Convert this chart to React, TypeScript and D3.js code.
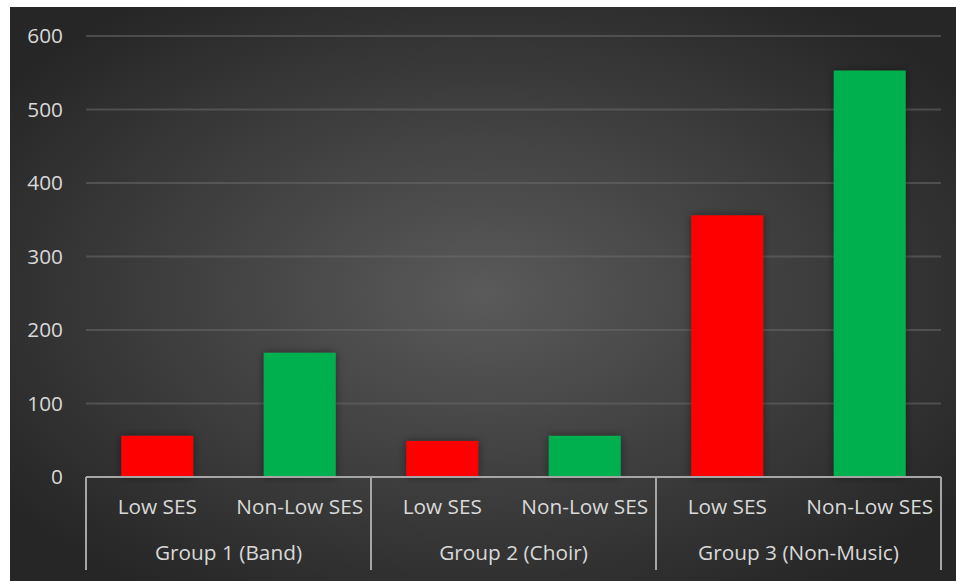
import React from "react";
import * as d3 from "d3";

const groups = ["Group 1 (Band)", "Group 2 (Choir)", "Group 3 (Non-Music)"];
const subcats = ["Low SES", "Non-Low SES"];
const lowSES = [56, 49, 356];
const nonLowSES = [169, 56, 553];
const yTicks = [0, 100, 200, 300, 400, 500, 600];
const colors = ["#FF0000", "#00B050"];

const W = 956;
const H = 581;
const plotLeft = 86;
const plotRight = 941;
const plotTop = 36;
const plotBottom = 477;
const font = "'Open Sans', 'Noto Sans', sans-serif";
const fs = 20.8;

export default function App() {
  const y = d3.scaleLinear().domain([0, 600]).range([plotBottom, plotTop]);
  const xg = d3.scaleBand<string>().domain(groups).range([plotLeft, plotRight]).padding(0);
  const sub = d3.scaleBand<string>().domain(subcats).range([0, xg.bandwidth()]).padding(0);
  const barW = sub.bandwidth() * 0.505;
  const series = [lowSES, nonLowSES];

  return (
    <svg width={W} height={H} style={{ position: "absolute", left: 0, top: 0 }}>
      <defs>
        <radialGradient id="bg" cx="50%" cy="50%" r="62%" gradientUnits="objectBoundingBox">
          <stop offset="0%" stopColor="#5a5a5a" />
          <stop offset="100%" stopColor="#262626" />
        </radialGradient>
        <filter id="sh" x="-20%" y="-20%" width="140%" height="140%">
          <feDropShadow dx="0" dy="0" stdDeviation="4" floodColor="#000" floodOpacity="0.45" />
        </filter>
      </defs>
      <rect x={0} y={0} width={W} height={H} fill="#fff" />
      <rect x={10} y={7} width={W - 10} height={H - 7} fill="url(#bg)" />
      {yTicks.map((t) => (
        <g key={t}>
          {t > 0 && (
            <line x1={plotLeft} x2={plotRight} y1={y(t)} y2={y(t)} stroke="#6a6a6a" strokeOpacity={0.55} strokeWidth={2} />
          )}
          <text x={63} y={y(t)} dy="0.36em" textAnchor="end" fill="#d9d9d9" fontFamily={font} fontSize={fs}>
            {t}
          </text>
        </g>
      ))}
      {groups.map((g, gi) =>
        subcats.map((s, si) => {
          const cx = (xg(g) as number) + (sub(s) as number) + sub.bandwidth() / 2;
          const v = series[si][gi];
          return (
            <rect
              key={g + s}
              x={cx - barW / 2}
              y={y(v)}
              width={barW}
              height={y(0) - y(v)}
              fill={colors[si]}
              filter="url(#sh)"
            />
          );
        })
      )}
      <line x1={plotLeft} x2={plotRight} y1={plotBottom} y2={plotBottom} stroke="#a6a6a6" strokeWidth={2} />
      {[...groups.map((g) => xg(g) as number), plotRight].map((x, i) => (
        <line key={i} x1={x} x2={x} y1={plotBottom} y2={570} stroke="#a6a6a6" strokeWidth={2} />
      ))}
      {groups.map((g) =>
        subcats.map((s) => (
          <text
            key={g + s + "l"}
            x={(xg(g) as number) + (sub(s) as number) + sub.bandwidth() / 2}
            y={507}
            dy="0.36em"
            textAnchor="middle"
            fill="#d9d9d9"
            fontFamily={font}
            fontSize={fs}
          >
            {s}
          </text>
        ))
      )}
      {groups.map((g) => (
        <text
          key={g}
          x={(xg(g) as number) + xg.bandwidth() / 2}
          y={553}
          dy="0.36em"
          textAnchor="middle"
          fill="#d9d9d9"
          fontFamily={font}
          fontSize={fs}
        >
          {g}
        </text>
      ))}
    </svg>
  );
}
